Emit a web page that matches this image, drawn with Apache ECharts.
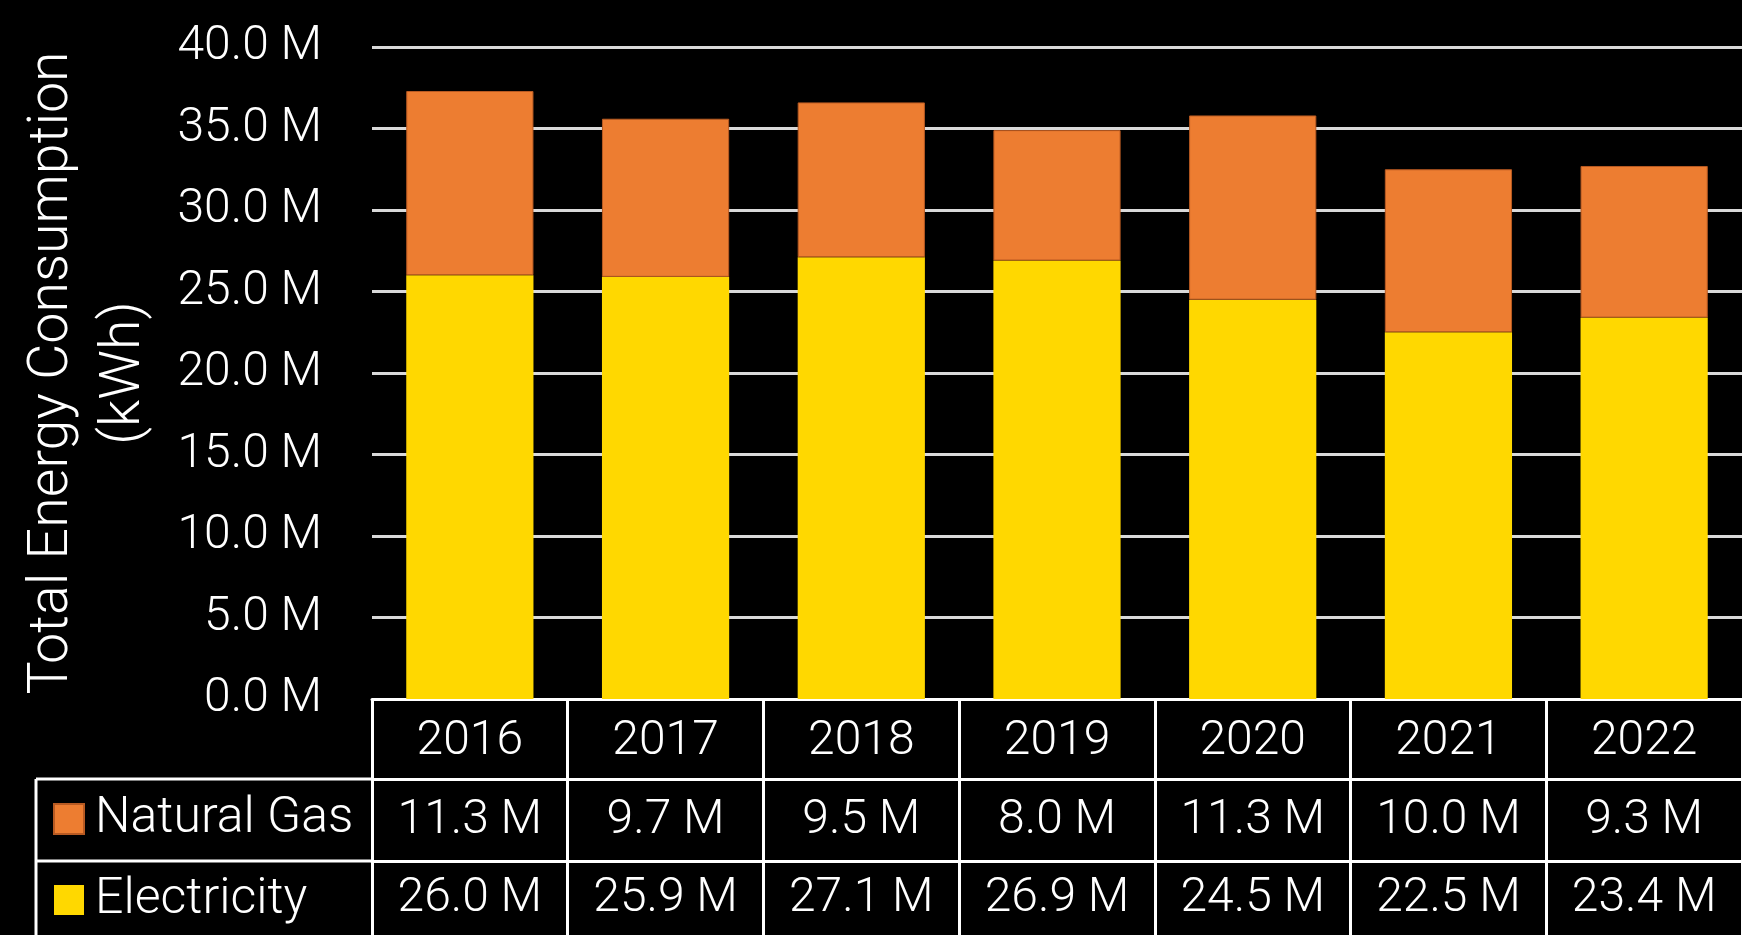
<!DOCTYPE html>
<html><head><meta charset="utf-8">
<script src="https://cdn.jsdelivr.net/npm/echarts@6/dist/echarts.min.js"></script>
<style>html,body{margin:0;padding:0;background:#000;}#c{width:1742px;height:935px;}</style>
</head><body><div id="c"></div>
<script>
const years = ['2016','2017','2018','2019','2020','2021','2022'];
const electricity = [26.0, 25.9, 27.1, 26.9, 24.5, 22.5, 23.4];
const naturalGas = [11.3, 9.7, 9.5, 8.0, 11.3, 10.0, 9.3];
const seriesNames = ['Natural Gas', 'Electricity'];
const yTicks = {min: 0, max: 40, interval: 5};
const axisTitle = 'Total Energy Consumption\n(kWh)';

const FONT = 'Roboto';
const FW = 300;
const fmt = v => v.toFixed(1) + ' M';
const chart = echarts.init(document.getElementById('c'));
const W = '#ffffff';
const labelBase = {color: W, fontFamily: FONT, fontWeight: FW, fontSize: 48, lineHeight: 48};
chart.setOption({
  backgroundColor: '#000',
  animation: false,
  grid: {left: 372, top: 47, width: 1378, bottom: 236, containLabel: false},
  legend: {
    data: seriesNames, orient: 'vertical', left: 53, top: 794, padding: 0,
    itemWidth: 30, itemHeight: 30, itemGap: 31, icon: 'rect',
    textStyle: {color: W, fontFamily: FONT, fontWeight: FW, fontSize: 50, lineHeight: 48, padding: [0,0,0,6]},
    selectedMode: false
  },
  xAxis: [
    {type: 'category', data: years, position: 'bottom',
     axisLine: {show: true, lineStyle: {color: W, width: 3}},
     axisTick: {show: true, length: 260, lineStyle: {color: W, width: 3}},
     axisLabel: Object.assign({margin: 19}, labelBase)},
    {type: 'category', data: years, position: 'bottom', offset: 80,
     axisLine: {show: true, lineStyle: {color: W, width: 3}},
     axisTick: {show: false},
     axisLabel: Object.assign({margin: 18, formatter: (v, i) => fmt(naturalGas[i])}, labelBase)},
    {type: 'category', data: years, position: 'bottom', offset: 162,
     axisLine: {show: true, lineStyle: {color: W, width: 3}},
     axisTick: {show: false},
     axisLabel: Object.assign({margin: 14, formatter: (v, i) => fmt(electricity[i])}, labelBase)}
  ],
  yAxis: {
    type: 'value', min: yTicks.min, max: yTicks.max, interval: yTicks.interval,
    name: axisTitle, nameLocation: 'middle', nameGap: 211,
    nameTextStyle: {color: W, fontFamily: FONT, fontWeight: FW, fontSize: 55.5, lineHeight: 72},
    axisLine: {show: false}, axisTick: {show: false},
    axisLabel: Object.assign({margin: 50, formatter: v => fmt(v)}, labelBase),
    splitLine: {lineStyle: {color: '#d9d9d9', width: 3}}
  },
  series: [
    {name: 'Electricity', type: 'bar', stack: 'total', data: electricity,
     barCategoryGap: '35%', itemStyle: {color: '#FFD800'}},
    {name: 'Natural Gas', type: 'bar', stack: 'total', data: naturalGas,
     barCategoryGap: '35%', itemStyle: {color: '#ED7D31', borderColor: '#b85a22', borderWidth: 1}}
  ],
  graphic: [
    {type: 'line', shape: {x1: 36, y1: 779, x2: 372, y2: 779}, style: {stroke: W, lineWidth: 3}},
    {type: 'line', shape: {x1: 36, y1: 861, x2: 372, y2: 861}, style: {stroke: W, lineWidth: 3}},
    {type: 'line', shape: {x1: 36, y1: 779, x2: 36, y2: 935}, style: {stroke: W, lineWidth: 3}}
  ]
});
</script></body></html>
